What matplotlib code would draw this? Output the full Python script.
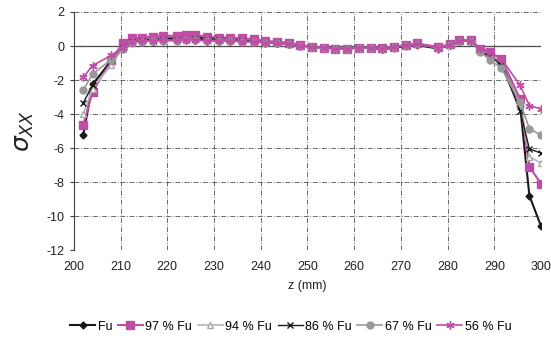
import numpy as np
import matplotlib
matplotlib.use("Agg")
import matplotlib.pyplot as plt

plt.rcParams['font.family'] = ['Liberation Sans', 'DejaVu Sans']
plt.rcParams['axes.unicode_minus'] = False

z = [202, 204, 208, 210.5, 212.5, 214.5, 217, 219, 222, 224, 226, 228.5, 231, 233.5,
     236, 238.5, 241, 243.5, 246, 248.5, 251, 253.5, 256, 258.5, 261, 263.5, 266, 268.5,
     271, 273.5, 278, 280.5, 282.5, 285, 287, 289, 291.5, 295.5, 297.5, 300]

fu = [-5.25, -2.25, -0.9, -0.1, 0.3, 0.35, 0.4, 0.45, 0.45, 0.5, 0.5, 0.45, 0.45, 0.4,
      0.35, 0.3, 0.25, 0.2, 0.15, 0.05, -0.05, -0.1, -0.15, -0.15, -0.1, -0.1, -0.2, -0.1,
      0.0, 0.05, -0.15, 0.05, 0.3, 0.3, -0.3, -0.6, -1.0, -3.5, -8.8, -10.6]
fu97 = [-4.65, -2.7, -0.85, 0.2, 0.45, 0.5, 0.55, 0.6, 0.6, 0.65, 0.65, 0.55, 0.5, 0.5,
        0.45, 0.4, 0.3, 0.25, 0.2, 0.05, -0.05, -0.1, -0.15, -0.15, -0.1, -0.1, -0.1, -0.05,
        0.05, 0.15, -0.05, 0.1, 0.35, 0.35, -0.15, -0.35, -0.75, -3.1, -7.1, -8.1]
fu94 = [-4.0, -2.5, -1.1, -0.15, 0.25, 0.3, 0.3, 0.35, 0.35, 0.4, 0.4, 0.35, 0.35, 0.35,
        0.3, 0.25, 0.2, 0.15, 0.1, 0.0, -0.05, -0.1, -0.15, -0.15, -0.1, -0.1, -0.15, -0.05,
        0.05, 0.1, -0.1, 0.05, 0.3, 0.3, -0.25, -0.55, -1.1, -3.4, -6.5, -6.9]
fu86 = [-3.35, -2.3, -0.8, -0.1, 0.25, 0.3, 0.3, 0.35, 0.35, 0.35, 0.4, 0.35, 0.35, 0.3,
        0.3, 0.25, 0.2, 0.15, 0.1, 0.0, -0.05, -0.1, -0.15, -0.15, -0.1, -0.1, -0.15, -0.05,
        0.05, 0.1, -0.1, 0.05, 0.3, 0.3, -0.3, -0.6, -1.1, -3.8, -6.05, -6.3]
fu67 = [-2.6, -1.65, -0.8, -0.15, 0.2, 0.25, 0.3, 0.3, 0.3, 0.35, 0.35, 0.3, 0.3, 0.3,
        0.25, 0.25, 0.2, 0.15, 0.1, 0.0, -0.05, -0.1, -0.15, -0.15, -0.1, -0.1, -0.15, -0.05,
        0.05, 0.1, -0.1, 0.05, 0.3, 0.3, -0.35, -0.8, -1.3, -3.3, -4.85, -5.25]
fu56 = [-1.85, -1.15, -0.55, -0.1, 0.25, 0.3, 0.3, 0.35, 0.35, 0.35, 0.35, 0.3, 0.3, 0.3,
        0.25, 0.25, 0.2, 0.15, 0.1, 0.0, -0.05, -0.1, -0.15, -0.15, -0.1, -0.1, -0.15, -0.05,
        0.05, 0.1, -0.1, 0.05, 0.3, 0.3, -0.2, -0.4, -0.75, -2.3, -3.5, -3.7]

labels = ['Fu', '97 % Fu', '94 % Fu', '86 % Fu', '67 % Fu', '56 % Fu']
magenta = '#bf4da6'

fig = plt.figure(figsize=(5.51, 3.38), dpi=100)
ax = fig.add_axes([0.134, 0.26, 0.848, 0.7045])

ax.axhline(0, color='#404040', lw=0.9, zorder=1)

ax.plot(z, fu, color='#1a1a1a', lw=1.5, marker='D', ms=3.5, label=labels[0], zorder=3)
ax.plot(z, fu97, color=magenta, lw=1.5, marker='s', ms=5.5, label=labels[1], zorder=3)
ax.plot(z, fu94, color='#b5b5b5', lw=1.2, marker='^', ms=5, mfc='white', mec='#a8a8a8',
        label=labels[2], zorder=3)
ax.plot(z, fu86, color='#1a1a1a', lw=1.0, marker='x', ms=5, mew=1.0, label=labels[3], zorder=3)
ax.plot(z, fu67, color='#999999', lw=1.2, marker='o', ms=5, label=labels[4], zorder=3)
ax.plot(z, fu56, color=magenta, lw=1.2, marker=(6, 2, 0), ms=6, mew=1.0, label=labels[5], zorder=3)

ax.set_xlim(200, 300)
ax.set_ylim(-12, 2)
ax.set_xticks(np.arange(200, 301, 10))
ax.set_yticks(np.arange(-12, 3, 2))
ax.grid(True, color='#555555', ls=(0, (6, 2, 1, 2)), lw=0.6)
for s in ['top', 'right', 'bottom']:
    ax.spines[s].set_visible(False)
ax.spines['left'].set_color('#404040')
ax.tick_params(axis='x', length=0, pad=8, labelsize=9)
ax.tick_params(axis='y', length=3, color='#404040', labelsize=9)
for lbl in ax.get_xticklabels() + ax.get_yticklabels():
    lbl.set_color('#222222')

ax.set_xlabel('z (mm)', fontsize=9, color='#222222', labelpad=5)
ax.set_ylabel(r'$\sigma_{XX}$', fontsize=18, color='#222222', labelpad=8)

fig.legend(loc='center', bbox_to_anchor=(0.528, 0.033), ncol=6, frameon=False,
           fontsize=9, handlelength=2.0, handletextpad=0.2, columnspacing=0.45,
           borderaxespad=0)

fig.savefig('out.png', dpi=100)
